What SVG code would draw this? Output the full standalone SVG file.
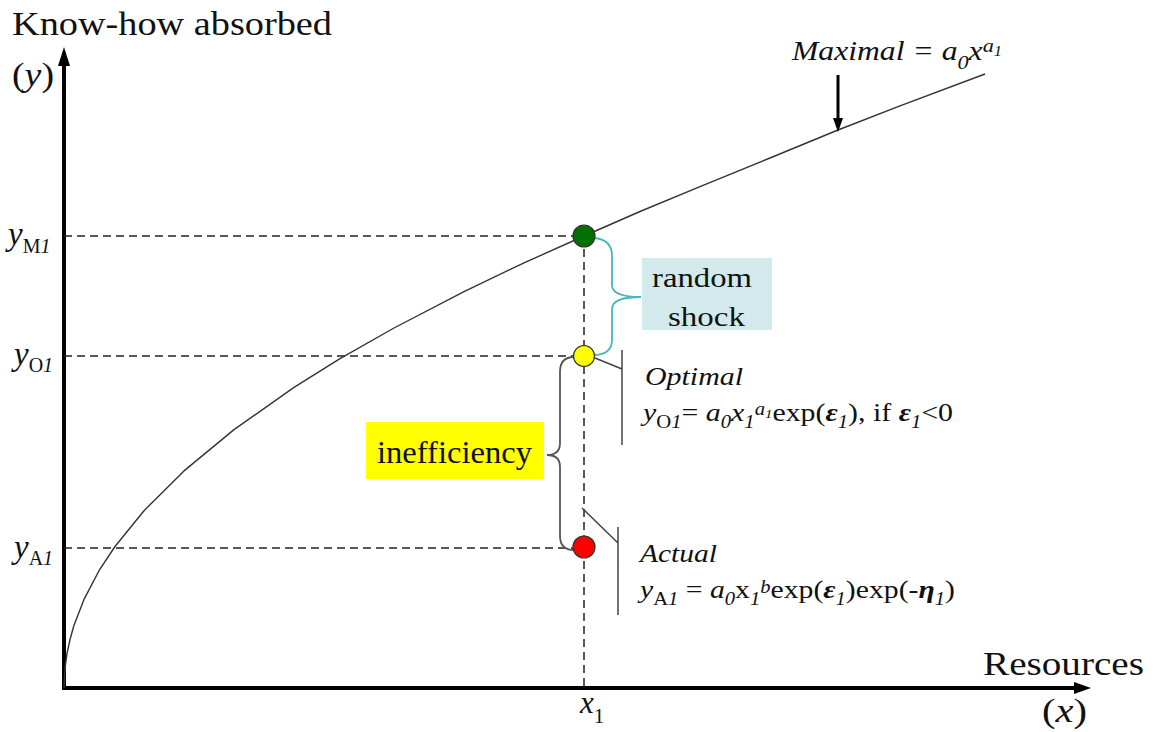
<svg xmlns="http://www.w3.org/2000/svg" width="1158" height="732" viewBox="0 0 1158 732">
<style>
text{font-family:"Liberation Serif","Times New Roman",serif;fill:#111;}
.it{font-style:italic;}
.bi{font-style:italic;font-weight:bold;}
.axis{stroke:#000;stroke-width:4;fill:none;}
.dash{stroke:#222;stroke-width:1.5;stroke-dasharray:8 5;fill:none;}
.thin{stroke:#444;stroke-width:1.5;fill:none;}
.dot{stroke:#333;stroke-width:1.2;}
</style>
<rect width="1158" height="732" fill="#fff"/>
<g id="axes">
<line class="axis" x1="64" y1="690" x2="64" y2="64"/>
<polygon points="58,66 70,66 64,47" fill="#000"/>
<line class="axis" x1="62" y1="688" x2="1076" y2="688"/>
<polygon points="1074,682 1074,694 1091,688" fill="#000"/>
<text x="12" y="35" font-size="33" textLength="320" lengthAdjust="spacingAndGlyphs">Know-how absorbed</text>
<text x="12" y="86" font-size="33" textLength="42" lengthAdjust="spacingAndGlyphs">(<tspan class="it">y</tspan>)</text>
<text x="983" y="675" font-size="33" textLength="161" lengthAdjust="spacingAndGlyphs">Resources</text>
<text x="1042" y="722" font-size="33" textLength="45" lengthAdjust="spacingAndGlyphs">(<tspan class="it">x</tspan>)</text>
<text x="580" y="713" font-size="31" class="it">x<tspan dy="10" font-size="21" font-style="normal">1</tspan></text>
</g>
<g id="connectors">
<path class="dash" d="M64,236 H584 M64,356 H584 M64,548 H584 M584,236 V688"/>
<path d="M64,688 L65,668.2 L67,653.7 L70,639.5 L74,625.3 L84,599.4 L99,570.7 L115,546.5 L144,510.7 L184,470.9 L234,429.6 L294,387.4 L340,358.7 L394,328 L464,291.6 L524,262.9 L584,236 L640,211.5 L700,186.7 L770,158 L838,130 L900,105.8 L985,74" fill="none" stroke="#333" stroke-width="1.4" stroke-linejoin="round"/>
<line x1="838" y1="75" x2="838" y2="120" stroke="#000" stroke-width="3"/>
<polygon points="833,118 843,118 838,132" fill="#000"/>
<path d="M595,238 Q612,240 612,256 L612,285 Q612,297 641,297 Q612,297 612,309 L612,340 Q612,354 595,355" fill="none" stroke="#45b8b8" stroke-width="1.8"/>
<path d="M574,357 Q560,357 560,372 L560,443 Q560,455 547,455 Q560,455 560,467 L560,536 Q560,550 574,550" fill="none" stroke="#555" stroke-width="1.8"/>
<path class="thin" d="M595,358 L622,369 M622,350 V445 M582,508 L618,543 M618,527 V615"/>
</g>
<g id="node-ym">
<circle class="dot" cx="584" cy="236" r="11" fill="#007000"/>
<text x="8" y="245" font-size="33"><tspan class="it">y</tspan><tspan dy="8" font-size="20">M</tspan><tspan font-size="20" class="it">1</tspan></text>
</g>
<g id="node-yo">
<circle class="dot" cx="584" cy="356" r="10.5" fill="#ffff00"/>
<text x="14" y="365" font-size="33"><tspan class="it">y</tspan><tspan dy="7" font-size="20">O</tspan><tspan font-size="20" class="it">1</tspan></text>
</g>
<g id="node-ya">
<circle class="dot" cx="584" cy="547" r="11" fill="#ff0000"/>
<text x="14" y="558" font-size="33"><tspan class="it">y</tspan><tspan dy="7" font-size="20">A</tspan><tspan font-size="20" class="it">1</tspan></text>
</g>
<g id="label-maximal">
<text x="792" y="60" font-size="27" class="it" textLength="210" lengthAdjust="spacingAndGlyphs">Maximal = a<tspan dy="9" font-size="19">0</tspan><tspan dy="-9">x</tspan><tspan dy="-8" font-size="19">a</tspan><tspan dy="4" font-size="14">1</tspan></text>
</g>
<g id="random-shock">
<rect x="642" y="258" width="130" height="72" fill="#d3eaec"/>
<text x="652" y="287" font-size="28" textLength="100" lengthAdjust="spacingAndGlyphs">random</text>
<text x="668" y="326" font-size="28" textLength="77" lengthAdjust="spacingAndGlyphs">shock</text>
</g>
<g id="inefficiency">
<rect x="366" y="422" width="178" height="57" fill="#ffff00"/>
<text x="377" y="463" font-size="32" textLength="155" lengthAdjust="spacingAndGlyphs">inefficiency</text>
</g>
<g id="optimal">
<text x="645" y="385" font-size="26" class="it" textLength="98" lengthAdjust="spacingAndGlyphs">Optimal</text>
<text x="643" y="421" font-size="26" textLength="310" lengthAdjust="spacingAndGlyphs"><tspan class="it">y</tspan><tspan dy="7" font-size="18">O</tspan><tspan font-size="18" class="it">1</tspan><tspan dy="-7">= </tspan><tspan class="it">a</tspan><tspan dy="7" font-size="18" class="it">0</tspan><tspan dy="-7" class="it">x</tspan><tspan dy="7" font-size="18" class="it">1</tspan><tspan dy="-13" font-size="18" class="it">a</tspan><tspan dy="3" font-size="13" class="it">1</tspan><tspan dy="3">exp(</tspan><tspan class="bi">ε</tspan><tspan dy="7" font-size="18" class="it">1</tspan><tspan dy="-7">), if </tspan><tspan class="bi">ε</tspan><tspan dy="7" font-size="18" class="it">1</tspan><tspan dy="-7">&lt;0</tspan></text>
</g>
<g id="actual">
<text x="640" y="562" font-size="26" class="it" textLength="77" lengthAdjust="spacingAndGlyphs">Actual</text>
<text x="640" y="598" font-size="26" textLength="315" lengthAdjust="spacingAndGlyphs"><tspan class="it">y</tspan><tspan dy="7" font-size="18">A</tspan><tspan font-size="18" class="it">1</tspan><tspan dy="-7"> = </tspan><tspan class="it">a</tspan><tspan dy="7" font-size="18" class="it">0</tspan><tspan dy="-7">x</tspan><tspan dy="7" font-size="18" class="it">1</tspan><tspan dy="-12" font-size="18" class="it">b</tspan><tspan dy="5">exp(</tspan><tspan class="bi">ε</tspan><tspan dy="7" font-size="18" class="it">1</tspan><tspan dy="-7">)exp(-</tspan><tspan class="bi">η</tspan><tspan dy="7" font-size="18" class="it">1</tspan><tspan dy="-7">)</tspan></text>
</g>
</svg>
